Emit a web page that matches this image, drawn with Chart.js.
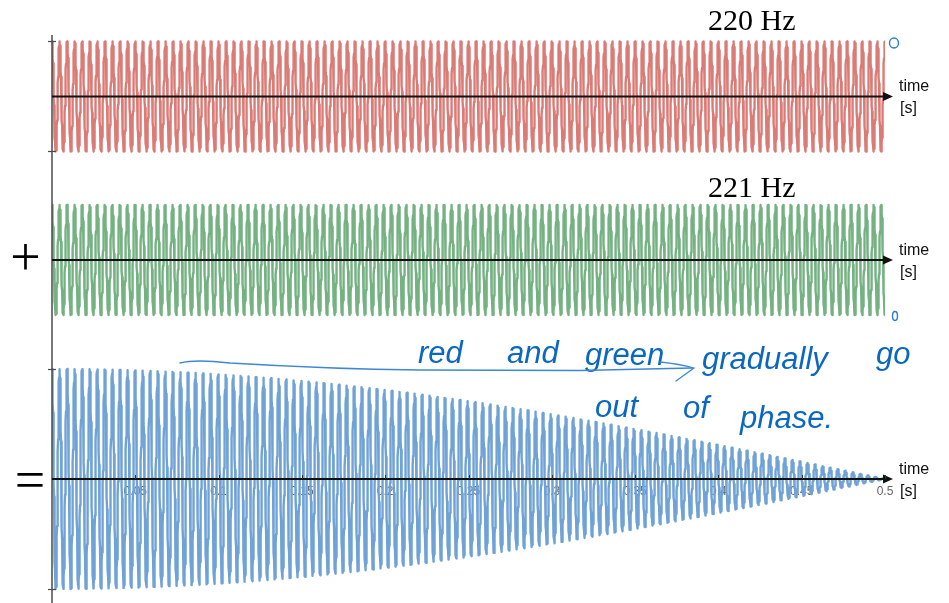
<!DOCTYPE html>
<html>
<head>
<meta charset="utf-8">
<script src="https://cdn.jsdelivr.net/npm/chart.js@4/dist/chart.umd.min.js"></script>
<style>
  html, body { margin: 0; padding: 0; background: #fff; }
  #wrap { width: 949px; height: 603px; position: relative; }
</style>
</head>
<body>
<div id="wrap"><canvas id="c" width="949" height="603"></canvas></div>
<script>
// Two tones and their sum, 0 to 0.5 s
const frequencies = [220, 221];             // Hz, red and green tones
const toneLabels = ['220 Hz', '221 Hz'];
const duration = 0.5;                        // seconds shown
const sampleCount = 6000;                    // samples across the time span
const tickValues = [0.05, 0.1, 0.15, 0.2, 0.25, 0.3, 0.35, 0.4, 0.45, 0.5];
const tickLabels = ['0.05', '0.1', '0.15', '0.2', '0.25', '0.3', '0.35', '0.4', '0.45', '0.5'];

const times = [];
for (let i = 0; i <= sampleCount; i++) times.push(i * duration / sampleCount);
const redTone = times.map(t => ({ x: t, y: Math.cos(2 * Math.PI * frequencies[0] * t) }));
const greenTone = times.map(t => ({ x: t, y: Math.cos(2 * Math.PI * frequencies[1] * t) }));
const sumTone = times.map((t, i) => ({ x: t, y: redTone[i].y + greenTone[i].y }));

// Axis lines with arrowheads, labels and notes
const overlay = {
  id: 'overlay',
  afterDatasetsDraw(chart) {
    const ctx = chart.ctx;
    const xs = chart.scales.x;
    const area = chart.chartArea;
    const x0 = xs.getPixelForValue(0);
    const xEnd = area.right + 8;
    ctx.save();

    // vertical axis
    ctx.strokeStyle = '#4a4a4a';
    ctx.lineWidth = 1.5;
    ctx.beginPath();
    ctx.moveTo(x0, 35);
    ctx.lineTo(x0, 603);
    ctx.stroke();
    const vt = [['yTop', 1], ['yTop', -1], ['y', 2], ['y', -2]];
    ctx.lineWidth = 1.2;
    vt.forEach(([id, v]) => {
      const py = Math.round(chart.scales[id].getPixelForValue(v)) + 0.5;
      ctx.beginPath();
      ctx.moveTo(x0 - 4, py);
      ctx.lineTo(x0 + 4, py);
      ctx.stroke();
    });

    // horizontal time axes
    ['yTop', 'yMid', 'y'].forEach(id => {
      const py = chart.scales[id].getPixelForValue(0);
      ctx.strokeStyle = '#111';
      ctx.fillStyle = '#111';
      ctx.lineWidth = 2;
      ctx.beginPath();
      ctx.moveTo(x0, py);
      ctx.lineTo(xEnd - 6, py);
      ctx.stroke();
      ctx.beginPath();
      ctx.moveTo(xEnd, py);
      ctx.lineTo(xEnd - 10, py - 4.5);
      ctx.lineTo(xEnd - 10, py + 4.5);
      ctx.closePath();
      ctx.fill();
      ctx.font = '16px "Liberation Sans", Arial, sans-serif';
      ctx.textAlign = 'left';
      ctx.textBaseline = 'alphabetic';
      ctx.fillText('time', 899, py - 5);
      ctx.fillText('[s]', 900, py + 17);
    });

    // small tick marks on the sum axis
    const py0 = chart.scales.y.getPixelForValue(0);
    ctx.strokeStyle = '#333';
    ctx.lineWidth = 1;
    tickValues.forEach(v => {
      const px = Math.round(xs.getPixelForValue(v)) + 0.5;
      ctx.beginPath();
      ctx.moveTo(px, py0 - 4);
      ctx.lineTo(px, py0);
      ctx.stroke();
    });

    // tone labels
    ctx.fillStyle = '#000';
    ctx.font = '30px "Liberation Serif", "Times New Roman", serif';
    ctx.textAlign = 'left';
    ctx.fillText(toneLabels[0], 708, 30);
    ctx.fillText(toneLabels[1], 708, 197);

    // plus and equals signs
    ctx.font = '54px "Liberation Serif", "Times New Roman", serif';
    ctx.textAlign = 'center';
    ctx.fillText('+', 25.5, 275);
    ctx.fillText('=', 30, 498);

    // handwritten note
    ctx.fillStyle = '#0b68bf';
    ctx.font = 'italic 31px "Liberation Sans", Arial, sans-serif';
    ctx.textAlign = 'left';
    const words = [
      ['red', 418, 363], ['and', 507, 363], ['green', 585, 365],
      ['gradually', 702, 369], ['go', 876, 364],
      ['out', 595, 417], ['of', 683, 418], ['phase.', 740, 428]
    ];
    words.forEach(([w, x, y]) => ctx.fillText(w, x, y));

    // stroke leading to the note
    ctx.strokeStyle = '#3d88d2';
    ctx.lineWidth = 1.3;
    ctx.lineCap = 'round';
    ctx.beginPath();
    ctx.moveTo(180, 363);
    ctx.quadraticCurveTo(195, 359, 230, 363);
    ctx.quadraticCurveTo(330, 369, 420, 370);
    ctx.lineTo(580, 370.5);
    ctx.lineTo(692, 368);
    ctx.stroke();
    ctx.beginPath();
    ctx.moveTo(660, 362);
    ctx.quadraticCurveTo(680, 364, 694, 368);
    ctx.lineTo(676, 381);
    ctx.stroke();

    // end markers
    ctx.strokeStyle = '#2a7ccc';
    ctx.lineWidth = 1.4;
    ctx.beginPath();
    ctx.ellipse(894, 43, 4.5, 5, 0, 0, Math.PI * 2);
    ctx.stroke();
    ctx.beginPath();
    ctx.ellipse(895, 316, 2.5, 4.5, 0, 0, Math.PI * 2);
    ctx.stroke();

    ctx.restore();
  }
};

const lineStyle = {
  pointRadius: 0, borderWidth: 2.4, tension: 0, fill: false,
  borderJoinStyle: 'round', borderCapStyle: 'round'
};

new Chart(document.getElementById('c'), {
  type: 'line',
  data: {
    datasets: [
      Object.assign({ label: toneLabels[0], data: redTone, borderColor: '#dc7b76', yAxisID: 'yTop' }, lineStyle),
      Object.assign({ label: toneLabels[1], data: greenTone, borderColor: '#74b282', yAxisID: 'yMid' }, lineStyle),
      Object.assign({ label: 'sum', data: sumTone, borderColor: '#6fa2d6', yAxisID: 'y' }, lineStyle)
    ]
  },
  options: {
    responsive: false,
    animation: false,
    events: [],
    layout: { padding: { left: 52, right: 64, top: 35, bottom: 3 } },
    plugins: { legend: { display: false }, tooltip: { enabled: false } },
    scales: {
      x: {
        type: 'linear',
        min: 0,
        max: duration,
        position: { y: 0 },
        afterBuildTicks: s => { s.ticks = tickValues.map(v => ({ value: v })); },
        ticks: {
          autoSkip: false,
          maxRotation: 0,
          padding: 5,
          color: '#666',
          font: { family: '"Liberation Sans", Arial, sans-serif', size: 12 },
          callback: (v, i) => tickLabels[i]
        },
        grid: { display: false, drawTicks: false, tickLength: 0 },
        border: { display: false }
      },
      yTop: { type: 'linear', display: false, min: -9.155, max: 1.118 },
      yMid: { type: 'linear', display: false, min: -6.182, max: 4.091 },
      y: { type: 'linear', display: false, min: -2.2, max: 8.0727 }
    }
  },
  plugins: [overlay]
});
</script>
</body>
</html>
